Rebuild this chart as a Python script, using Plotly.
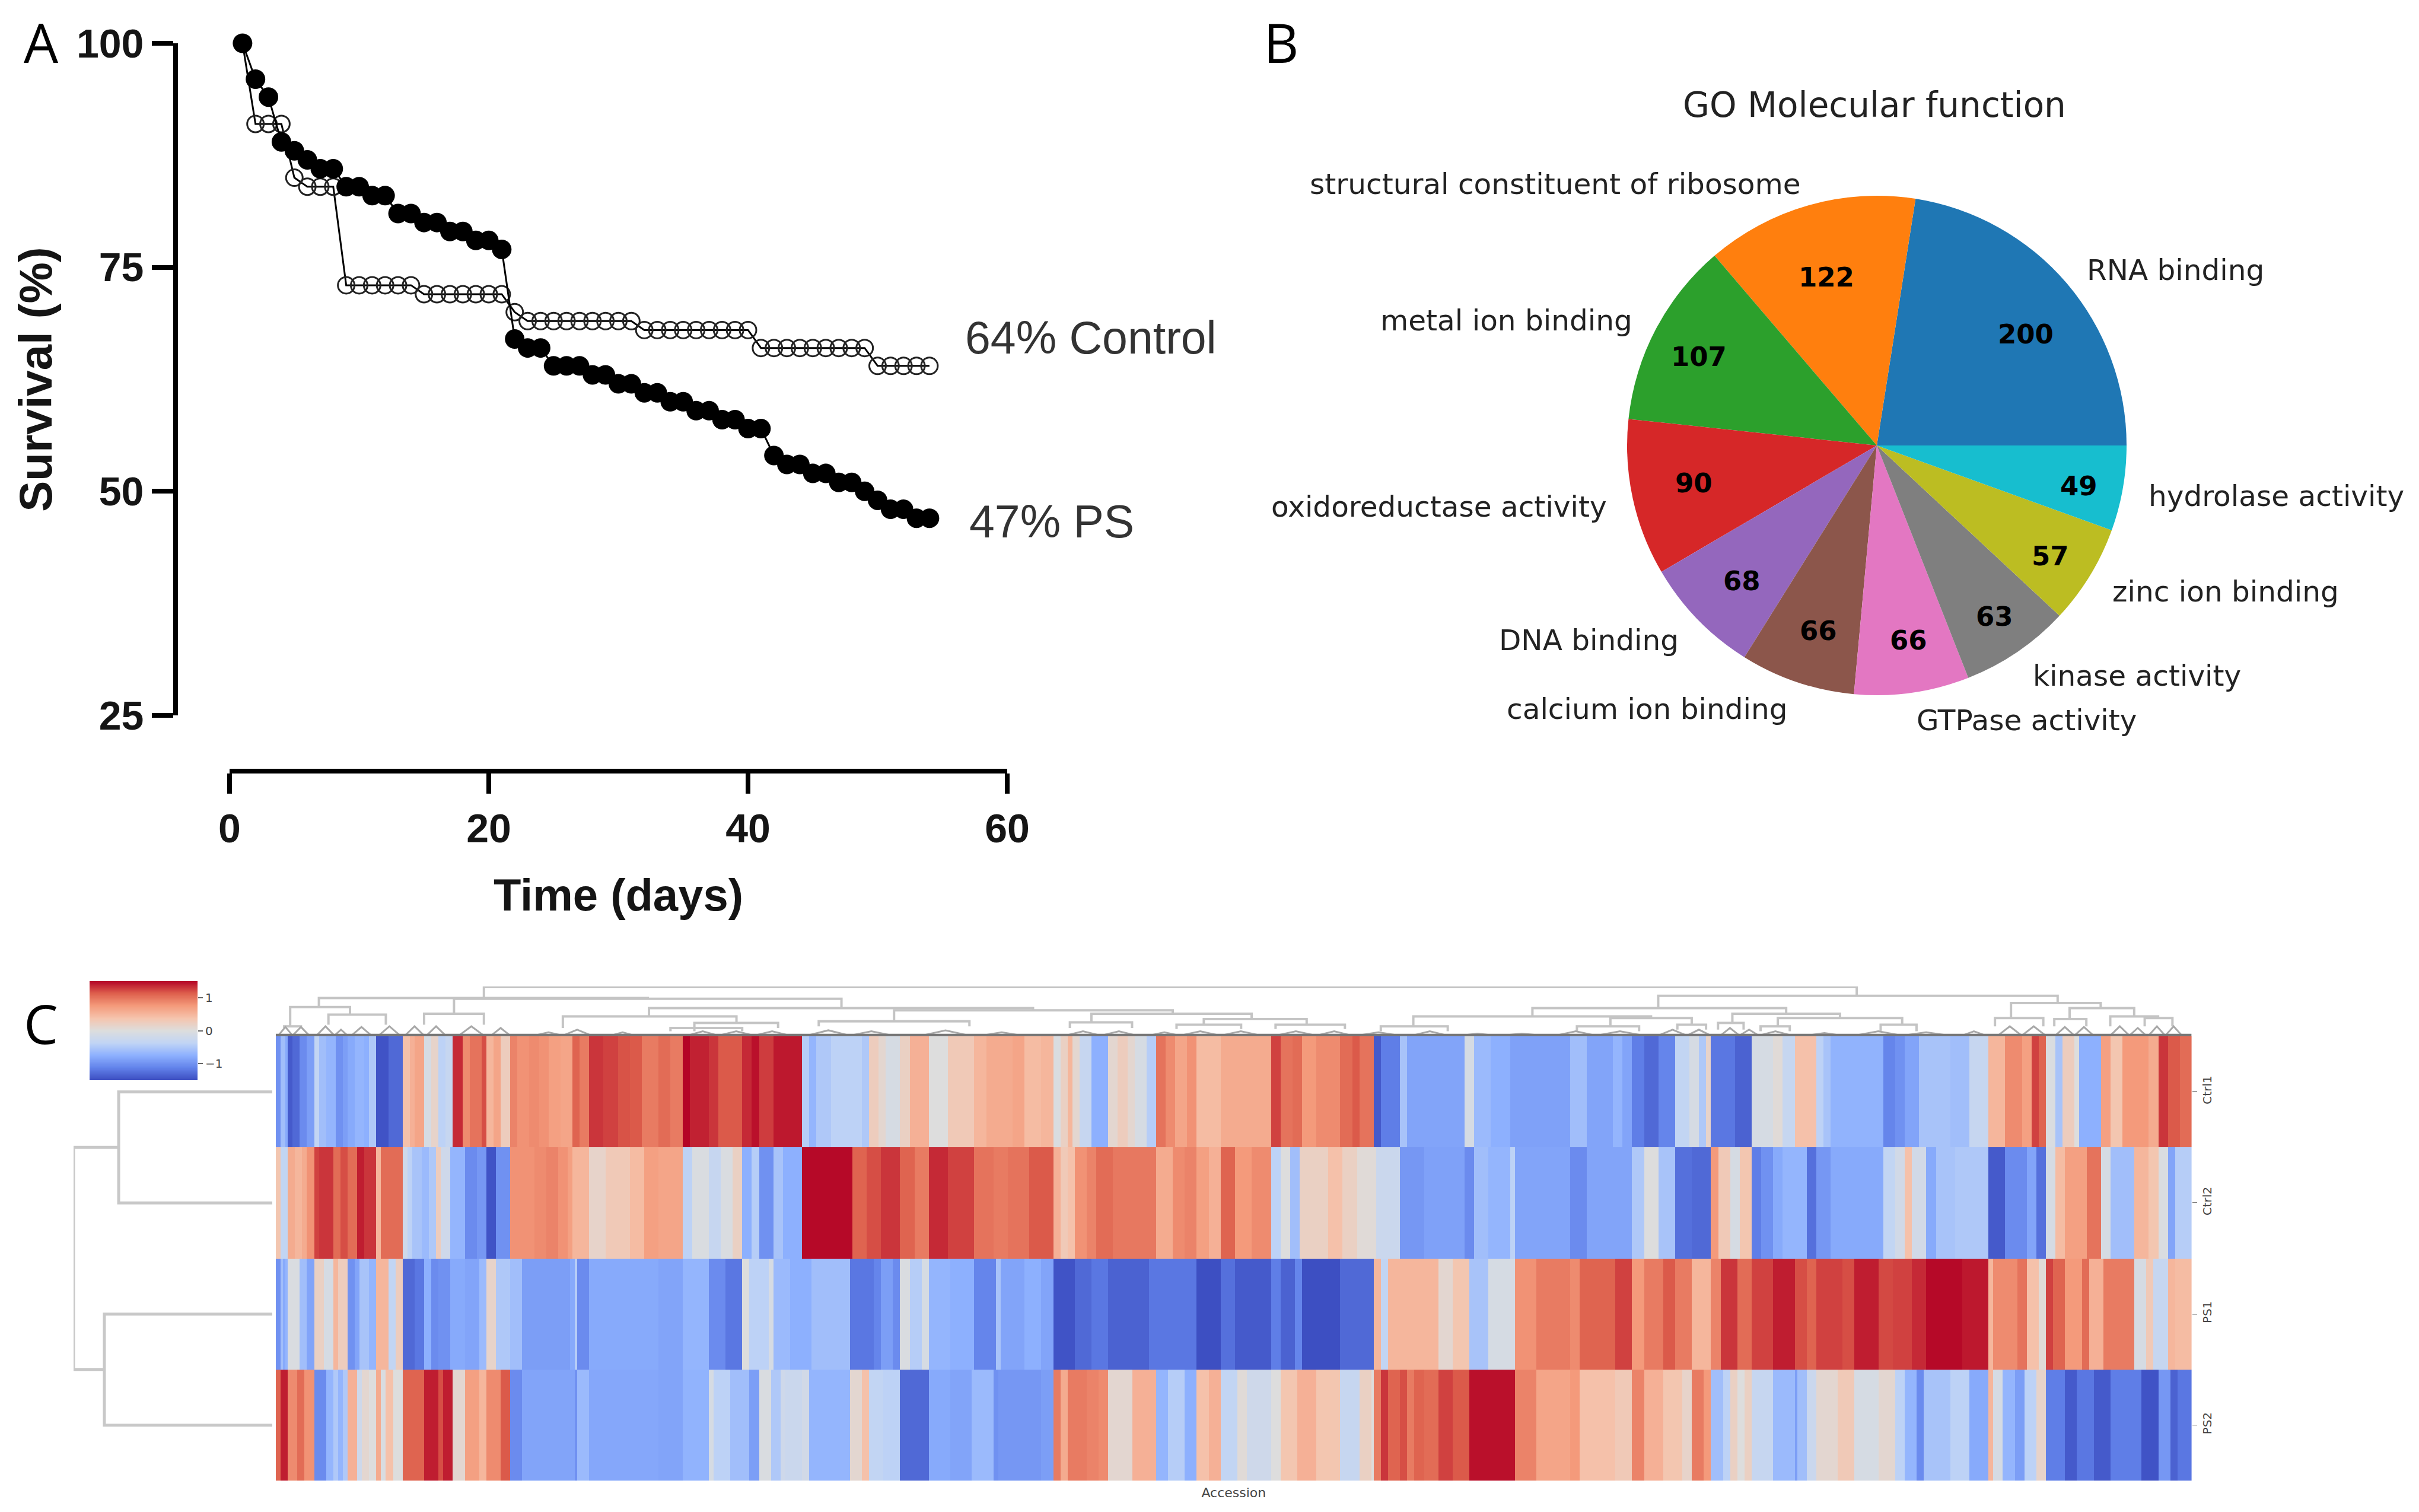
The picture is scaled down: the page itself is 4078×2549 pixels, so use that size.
import math
import numpy as np
import plotly.graph_objects as go

W, H = 4078, 2549
def px(x): return x / W
def py(y): return 1 - y / H

# ---------- Panel A ----------
days = list(range(1, 55))
ps_survival = [100,96,94,89,88,87,86,86,84,84,83,83,81,81,80,80,79,79,78,78,77,67,66,66,64,64,64,63,63,62,62,61,61,60,60,59,59,58,58,57,57,54,53,53,52,52,51,51,50,49,48,48,47,47]
control_survival = [100,91,91,91,85,84,84,84,73,73,73,73,73,73,72,72,72,72,72,72,72,70,69,69,69,69,69,69,69,69,69,68,68,68,68,68,68,68,68,68,66,66,66,66,66,66,66,66,66,64,64,64,64,64]

# ---------- Panel B ----------
go_labels = ["RNA binding","structural constituent of ribosome","metal ion binding","oxidoreductase activity","DNA binding","calcium ion binding","GTPase activity","kinase activity","zinc ion binding","hydrolase activity"]
go_counts = [200,122,107,90,68,66,66,63,57,49]
go_colors = ["#1f77b4","#ff7f0e","#2ca02c","#d62728","#9467bd","#8c564b","#e377c2","#7f7f7f","#bcbd22","#17becf"]

# ---------- Panel C: runs of (last column in block, z value), 160 columns per block ----------
samples = ["Ctrl1","Ctrl2","PS1","PS2"]
sample_rows = [0, 1, 2, 3]
ctrl1_runs = [
 [(2,-1.0),(3.5,-.6),(5,-.8),(7,-1.4),(9.5,-1.3),(13,-1.05),(16,-.9),(17.5,-.35),(21,-.6),(25,-.7),(28,-1.0),(30,-.9),(33,-.8),(37,-.7),(39,-.75),(42,-.5),(47,-1.45),(53,-1.3),(56,.4),(58,.55),(61.5,.65),(62,.8),(65,-.1),(68,.15),(71,-.4),(73.5,-.3),(78.5,1.35),(81,.85),(86,1.0),(88,1.2),(91,.5),(94,.65),(98.5,.25),(101,.9),(106,.8),(110,.85),(114,.8),(119,.7),(123.5,.65),(127,1.1),(131,.95),(137,1.3),(143,1.25),(148,1.18),(153,1.15),(160,.95)],
 [(5,1.05),(10,.95),(13,1.5),(21,1.38),(25,1.3),(30,1.15),(35,1.15),(39,1.35),(42,1.45),(47.5,1.27),(60,1.42),(63,-.45),(66,-.7),(72,-.5),(85,-.4),(88,-.5),(92,.25),(95,.1),(101,-.1),(105,.2),(113,.55),(121,0),(131.6,.3),(137,.5),(148,.6),(153,.65),(160,.45)],
 [(5,.5),(8,-.05),(11,.2),(13,.5),(16,.1),(21,-.3),(27.5,-.75),(32,.1),(36,.25),(39,.1),(44,-.1),(48,-.45),(52,1.0),(56,.85),(61,.65),(65,.8),(75,.45),(81,.6),(96,.6),(100,1.25),(105,1.0),(109,1.05),(115,.75),(125,.85),(130,1.05),(133,1.15),(139,1.0),(142,-1.4),(150.5,-1.15),(153,-.55),(160,-.85)],
 [(17,-.85),(21.4,-.1),(28,-.65),(35.7,-.75),(61,-.87),(68,-.6),(79,-.85),(83,-.7),(87,-.85),(92,-1.15),(98,-1.3),(104.6,-1.1),(111,-.35),(115,-.1),(118,-.5),(120,.15),(130,-1.2),(136.7,-1.35),(146,-.1),(150,.05),(154.6,-.3),(160,.4)],
 [(3.6,.4),(7,-.4),(10,-.55),(32,-.72),(37,-1.1),(41,-1.0),(46.6,-.85),(60,-.55),(68,-.6),(75.6,-.3),(83,.5),(90,.85),(94,.7),(97,1.25),(100.5,1.1),(104,-.05),(107,-.55),(112,.25),(114,0),(123,-.75),(127,.7),(132,.35),(143,.75),(147,.6),(151,1.3),(156,1.15),(161,1.05)],
]
ctrl2_runs = [
 [(2,.35),(5,-.35),(7.5,.6),(11,.5),(13,.6),(15.5,.8),(18,1.25),(23.5,1.3),(27,1.05),(30,1.2),(34,1.05),(37,1.4),(41.5,1.3),(44.5,.5),(53,1.05),(55,-.2),(57,-.4),(61,-.55),(64,-.65),(67,-.5),(69,.25),(73,-.2),(79,-.7),(84,-1.05),(88,-.95),(92,-1.45),(98.5,-1.0),(108,.8),(113,.85),(118,.9),(122,.8),(124,.7),(131,.5),(138,.15),(148,.3),(154,.45),(160,.7)],
 [(10,.65),(14,-.4),(21,-.05),(26,-.3),(31,-.05),(35,.2),(39,-.75),(42,-.45),(47.5,-1.0),(52,-.55),(60,-.75),(80.6,1.48),(87,1.1),(93,1.2),(101,1.3),(107,1.1),(113,.95),(121,1.35),(131.6,1.25),(140,1.0),(146,.95),(155,1.0),(160,1.15)],
 [(5,1.15),(8,.55),(11,.3),(14,.4),(19,.8),(23,.9),(30,1.05),(48,.97),(55,.6),(60,.85),(65,.9),(70,.7),(75,.55),(81,1.1),(88,.75),(96,.85),(100,-.4),(104,0),(108,-.6),(120,.2),(126,.4),(132,.2),(140,.05),(150.5,-.25),(160,-.95)],
 [(17,-.87),(21.4,-1.05),(27,-.6),(35.7,-.7),(38,-.4),(61,-.85),(68,-1.05),(87,-.85),(92,-.5),(98,0),(104.6,-.55),(112,-1.25),(120,-1.3),(123,.75),(128,.3),(132,-.1),(136.7,.35),(141,-1.15),(146,-1.0),(150,-.8),(160,-.7)],
 [(3.6,-1.25),(10,-.95),(32,-.8),(37,-.35),(41,-.15),(44,.4),(50,-.15),(54,-.8),(62,-.55),(75.6,-.5),(83,-1.4),(92,-1.05),(96,-.85),(100.5,-1.25),(104,-.1),(108,.45),(117,.7),(123,1.0),(127,-.1),(137,-.6),(143,.5),(147,.35),(151,-.05),(154,-.85),(161,-.45)],
]
ps1_runs = [
 [(1.5,-1.0),(3,-.6),(4,-.8),(5,-.7),(10,-.05),(13,-.6),(16,-.85),(20,.2),(23.5,-.1),(26,.5),(30,.25),(33,-1.0),(35,-.85),(39,-.55),(42,-.7),(47,.5),(50,-.35),(53,.25),(58,-1.3),(62,-1.2),(65,-.75),(68,-1.05),(73,-1.0),(79,-.8),(85,-.85),(88,-.65),(92,.15),(98.5,-.5),(103,-.6),(123,-.9),(125,-.8),(126,-.45),(131,-1.05),(160,-.8)],
 [(10,-.85),(21,-.7),(28,-1.05),(34.7,-1.2),(38,0),(46,-.4),(48,-.1),(55,-.65),(64,-.75),(80,-.6),(90,-1.2),(93,-1.1),(98,-.9),(101,-1.05),(105,-.05),(110,-.45),(113,-.1),(122,-.7),(131.6,-.75),(141,-1.1),(143,-.55),(153,-.85),(160,-.75)],
 [(5,-.85),(14,-1.45),(21,-1.3),(27.5,-1.2),(45,-1.35),(65,-1.2),(75,-1.48),(81,-1.25),(96,-1.4),(100,-1.15),(106,-1.35),(109,-1.1),(125,-1.48),(139,-1.3),(142,.5),(145,-.35),(160,.5)],
 [(6.5,.5),(12,.1),(19,.35),(27,-.55),(38,-.1),(47,.8),(61,.95),(65,.85),(80,1.1),(87,1.25),(92,.75),(100,.95),(104.6,1.15),(112,.95),(120,.5),(124,.9),(131,1.3),(136.7,1.05),(146,1.25),(154.6,1.4),(160,1.2)],
 [(3.6,1.1),(15,1.25),(20,1.2),(30,1.4),(36,1.22),(44,1.25),(50,1.35),(65,1.48),(75.6,1.42),(78,.5),(88,.85),(92,1.0),(97,.4),(100.5,.05),(103,1.25),(108,1.1),(115,.75),(118,1.05),(124,.55),(137,.95),(142,-.1),(145,.3),(151,-.3),(154,.5),(161,.45)],
]
ps2_runs = [
 [(1.5,1.1),(5.3,1.4),(9,.85),(12.5,1.05),(15.5,.8),(21,-1.05),(24,-.7),(26,-.5),(28,-.7),(30,-.5),(33.5,.55),(35.5,-.2),(39,.1),(41.5,0),(44.5,.6),(46.5,-.05),(49,.4),(53,0),(61.5,1.1),(62,.9),(68,1.4),(70,1.2),(73.5,1.4),(79,.1),(85,.7),(88,.5),(94,.85),(98.5,1.15),(103,-1.05),(125,-.85),(126.5,-1.0),(131,-.65),(160,-.82)],
 [(10,-.85),(21,-.72),(23,-.1),(30,-.4),(38,-.6),(42.5,-.9),(47,-.05),(51,-.5),(53,-.2),(60,-.25),(63,-.15),(80,-.7),(85,.1),(88,.4),(94,-.35),(101,-.4),(113,-1.3),(122,-.8),(131,-.85),(140,-.65),(142,-1.0),(160,-.95)],
 [(5,-.9),(8,.95),(11,.6),(19,.95),(24,.9),(27.5,.85),(38,.1),(48,.55),(53,-.7),(60,-.45),(65,-.75),(70,.4),(75,.55),(82,-.35),(86,.05),(96,-.2),(100,0),(107,.35),(115,.55),(125,.35),(133,-.3),(138,.2),(139,0),(142,.95),(145,1.3),(150,1.1),(153,1.2),(156,.95),(160,1.1)],
 [(6.5,1.05),(12,1.25),(19,1.15),(38,1.45),(47,.9),(61,.65),(65,.75),(80,.4),(87,.3),(92,.9),(100,.55),(108,.35),(112,.15),(117,.95),(120,.75),(125,-.6),(128,-.4),(131,.2),(134,0),(136.7,.2),(146,-.3),(154.6,-.65),(156,-.9),(160,-.6)],
 [(3.6,-.25),(13,.1),(20,.3),(30,-.1),(37,.1),(41,-.4),(46,-.7),(49,-1.05),(60,-.55),(68,-.4),(75.6,-.8),(78,.5),(82,-.1),(87,-.7),(91,-.9),(96,-.4),(100.5,.15),(108,-1.15),(113,-1.4),(120,-1.2),(127,-1.4),(140,-1.15),(147,-1.45),(152,-.95),(155,-1.35),(161,-1.2)],
]
n_cols = 801
z_limit = 1.5
scale_ticks = [-1, 0, 1]
coolwarm = [[0,"#3b4cc0"],[.125,"#6282ea"],[.25,"#8db0fe"],[.375,"#c0d4f5"],[.5,"#dddddd"],[.625,"#f5c4ad"],[.75,"#f49a7b"],[.875,"#de604d"],[1,"#b40426"]]

# dendrogram merges: left column, right column, left child height, right child height, merge height
col_links = [(87,661,115,122,148),(18,155.5,88,113,115),(74.5,236.5,68,85,113),(6,31,30,65,88),(22,46,35,35,65),(62,87,35,35,68),
 (156,316.6,60,78,85),(120,192.6,25,40,60),(258.5,375,45,68,78),(227,290,30,30,45),(341,408,42,52,68),(332,358,25,25,42),
 (388,431,35,35,52),(376.6,403.6,22,22,35),(418,447,22,22,35),(578,745,85,100,122),(525.4,631.5,60,68,85),(475.6,575,30,55,60),
 (558,592,30,35,55),(462,490,15,15,30),(544,570,15,15,30),(586,598,20,20,35),(609,654,40,55,68),(603,613.7,20,20,40),
 (628,680,30,35,55),(620.8,633,15,15,30),(671,686,15,15,35),(725.5,763,55,85,100),(718.8,739,30,30,55),(750,777,52,60,85),
 (743.6,757,30,30,52),(767,787,30,55,60),(781.4,793,30,30,55),(3.5,10.5,25,25,30),(165,195,15,15,25),(175,210,15,25,40)]
leaf_clusters = [(1,7,28),(7,14,28),(17,24.5,30),(24.5,30,20),(31.6,40,28),(43,52,30),(54,62,30),(63,71,30),(76.5,87,30),(90,98,25),
 (108,120,12),(120,132,20),(140,150,12),(172,185,15),(185,200,15),(200,215,15),(222,240,18),(240,258,15),(270,290,18),(295,312,12),
 (330,345,15),(345,360,15),(365,378,12),(378,395,15),(395,412,15),(418,435,15),(435,450,15),(452,470,12),(475,490,15),(495,510,8),
 (512,530,8),(535,552,15),(552,572,15),(578,590,20),(590,600,20),(604,612,25),(612,620,20),(620,634,15),(640,655,10),(660,680,15),
 (680,700,12),(705,715,15),(720,730,30),(730,740,30),(744,752,28),(752,760,28),(767,775,30),(775,782,25),(783,790,30),(790,797,30)]
row_links = [(0,1,0,0,.773),(2,3,0,0,.845),(.5,2.5,.773,.845,1.0)]

def expand(blocks):
    out = np.zeros(n_cols)
    for k, runs in enumerate(blocks):
        start = 0.0
        for end, val in runs:
            a, b = int(round(160*k+start)), int(round(160*k+end))
            out[a:b] = val
            start = end
    return out
z = np.vstack([expand(r) for r in (ctrl1_runs, ctrl2_runs, ps1_runs, ps2_runs)])
col_centers = np.arange(n_cols) + .5

def link_path(links):
    a, b = [], []
    for l, r, hl, hr, h in links:
        a += [l, l, r, r, None]
        b += [hl, h, h, hr, None]
    return a, b

fig = go.Figure()

# Panel A
GREY = "#333333"
INK = "#151515"
fig.add_trace(go.Scatter(x=days, y=control_survival, mode="lines+markers", name="Control", showlegend=False, xaxis="x", yaxis="y", cliponaxis=False,
    line=dict(color="black", width=3), marker=dict(symbol="circle-open", size=28, color="#222222", line=dict(width=3, color="#222222"))))
fig.add_trace(go.Scatter(x=days, y=ps_survival, mode="lines+markers", name="PS", showlegend=False, xaxis="x", yaxis="y", cliponaxis=False,
    line=dict(color="black", width=3), marker=dict(symbol="circle", size=33, color="black")))

# Panel B
PIE_CX, PIE_CY, PIE_R = 3164, 751, 421
total = sum(go_counts)
fig.add_trace(go.Pie(labels=go_labels, values=go_counts, sort=False, direction="counterclockwise",
    rotation=90 - go_counts[0] / total * 360, textinfo="none",
    marker=dict(colors=go_colors, line=dict(width=0)), showlegend=False,
    domain=dict(x=[px(PIE_CX-PIE_R), px(PIE_CX+PIE_R)], y=[py(PIE_CY+PIE_R), py(PIE_CY-PIE_R)])))

# Panel C
fig.add_trace(go.Heatmap(z=z, x=col_centers, y=sample_rows, xaxis="x2", yaxis="y2", zmin=-z_limit, zmax=z_limit, colorscale=coolwarm, showscale=False))
scale_levels = np.linspace(-z_limit, z_limit, 241)
fig.add_trace(go.Heatmap(z=scale_levels[:, None], x=[0], y=scale_levels, xaxis="x5", yaxis="y5", zmin=-z_limit, zmax=z_limit, colorscale=coolwarm, showscale=False, hoverinfo="skip"))
ax, ay = link_path(col_links)
fig.add_trace(go.Scatter(x=ax, y=ay, mode="lines", line=dict(color="#c4c4c4", width=4), showlegend=False, xaxis="x3", yaxis="y3", hoverinfo="skip"))
tx, ty = [], []
for l, r, h in leaf_clusters:
    tx += [l, (l+r)/2, r, None]; ty += [2, h, 2, None]
fig.add_trace(go.Scatter(x=tx, y=ty, mode="lines", line=dict(color="#a8a8a8", width=3), showlegend=False, xaxis="x3", yaxis="y3", hoverinfo="skip"))
fig.add_trace(go.Scatter(x=[0, n_cols], y=[3, 3], mode="lines", line=dict(color="#777777", width=5), showlegend=False, xaxis="x3", yaxis="y3", hoverinfo="skip"))
rh, rv = link_path(row_links)
fig.add_trace(go.Scatter(x=rv, y=rh, mode="lines", line=dict(color="#c8c8c8", width=5), showlegend=False, xaxis="x4", yaxis="y2", hoverinfo="skip"))

anns = []
def note(text, x, y, size, family, xanchor="center", yanchor="middle", color="#222222", bold=False):
    anns.append(dict(text=f"<b>{text}</b>" if bold else text, x=px(x), y=py(y), xref="paper", yref="paper", showarrow=False,
        xanchor=xanchor, yanchor=yanchor, font=dict(size=size, family=family, color=color)))
note("A", 38, 70, 92, "Open Sans", xanchor="left", color="black")
note("B", 2128, 70, 92, "Open Sans", xanchor="left", color="black")
note("C", 38, 1724, 92, "Open Sans", xanchor="left", color="black")
note("64% Control", 1625, 569, 77, "Liberation Sans", xanchor="left", color=GREY)
note("47% PS", 1632, 879, 77, "Liberation Sans", xanchor="left", color=GREY)
note("GO Molecular function", 3160, 177, 58, "DejaVu Sans")

value_nudge = [(5,23),(3,28),(-13,2),(8,-5),(5,3),(5,5),(8,8),(16,21),(16,18),(21,13)]
cum = 0
for lab, cnt, (nx, ny) in zip(go_labels, go_counts, value_nudge):
    theta = math.radians((cum + cnt/2) / total * 360)
    cum += cnt
    cx, cy = math.cos(theta), math.sin(theta)
    note(lab, PIE_CX + 1.1*PIE_R*cx, PIE_CY - 1.1*PIE_R*cy + 5, 48.5, "DejaVu Sans", xanchor="left" if cx > 0 else "right")
    note(str(cnt), PIE_CX + .77*PIE_R*cx + nx, PIE_CY - .77*PIE_R*cy + ny, 45, "DejaVu Sans", color="black", bold=True)

hidden = dict(visible=False, fixedrange=True, automargin=False)
fig.update_layout(
    width=W, height=H, margin=dict(l=0, r=0, t=0, b=0, pad=0), paper_bgcolor="white", plot_bgcolor="white", autosize=False,
    annotations=anns,
    xaxis=dict(automargin=False, domain=[px(387), px(1698)], range=[0, 60], tickvals=[0,20,40,60], anchor="free", position=py(1300), showgrid=False, zeroline=False,
               showline=True, linecolor="black", linewidth=8, ticks="outside", ticklen=34, tickwidth=8, tickcolor="black",
               tickfont=dict(family="Liberation Sans", size=68, color=INK, weight="bold"),
               title=dict(text="<b>Time (days)</b>", font=dict(family="Liberation Sans", size=76, color=INK), standoff=48)),
    yaxis=dict(automargin=False, domain=[py(1206), py(73)], range=[25, 100], tickvals=[25,50,75,100], anchor="free", position=px(296), showgrid=False, zeroline=False,
               showline=True, linecolor="black", linewidth=8, ticks="outside", ticklen=36, tickwidth=8, tickcolor="black",
               tickfont=dict(family="Liberation Sans", size=68, color=INK, weight="bold"),
               title=dict(text="<b>Survival (%)</b>", font=dict(family="Liberation Sans", size=78, color=INK), standoff=15)),
    xaxis2=dict(automargin=False, domain=[px(465), px(3694.6)], range=[0, n_cols], anchor="y2", showticklabels=False, ticks="", showgrid=False, zeroline=False,
                title=dict(text="Accession", font=dict(family="DejaVu Sans", size=22, color="#444"), standoff=12)),
    yaxis2=dict(automargin=False, domain=[py(2496), py(1747)], range=[3.5, -.5], tickvals=sample_rows, ticktext=samples, anchor="x2", side="right",
                tickangle=-90, ticks="outside", ticklen=8, tickcolor="#666", showgrid=False, zeroline=False,
                tickfont=dict(family="DejaVu Sans", size=20, color="#444")),
    xaxis3=dict(domain=[px(465), px(3694.6)], range=[0, n_cols], anchor="y3", **hidden),
    yaxis3=dict(domain=[py(1747), py(1663)], range=[0, 150], anchor="x3", **hidden),
    xaxis4=dict(domain=[px(124), px(459)], range=[1.0, 0], anchor="y2", **hidden),
    xaxis5=dict(domain=[px(151), px(333)], anchor="y5", **hidden),
    yaxis5=dict(automargin=False, domain=[py(1821), py(1654)], range=[-z_limit, z_limit], anchor="x5", side="right", tickvals=scale_ticks, ticktext=["−1","0","1"],
                ticks="outside", ticklen=8, tickwidth=2, tickcolor="#666", showgrid=False, zeroline=False, fixedrange=True,
                tickfont=dict(family="DejaVu Sans", size=20, color="#444")),
)
fig.write_html("out.html", config=dict(displayModeBar=False), post_script="document.body.style.margin='0';document.body.style.padding='0';")
